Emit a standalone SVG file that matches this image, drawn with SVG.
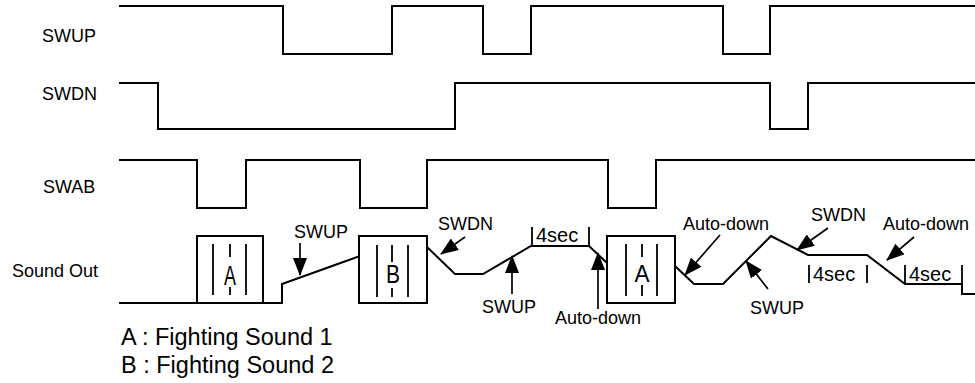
<svg xmlns="http://www.w3.org/2000/svg" width="975" height="383" viewBox="0 0 975 383">
<style>
  .sig { fill: none; stroke: #000; stroke-width: 2; stroke-linejoin: miter; }
  .box { fill: #fff; stroke: #000; stroke-width: 2; }
  .in { stroke: #000; stroke-width: 1.8; }
  .arr { stroke: #000; stroke-width: 1.7; fill: none; marker-end: url(#ah); }
  text { font-family: "Liberation Sans", Arial, Helvetica, sans-serif; fill: #000; }
  .lbl { font-size: 18px; }
  .sec { font-size: 20px; }
  .leg { font-size: 23.5px; }
  .bx { text-anchor: middle; }
</style>
<defs>
  <marker id="ah" markerUnits="userSpaceOnUse" markerWidth="18" markerHeight="14" viewBox="0 0 18 14" refX="17" refY="7" orient="auto">
    <path d="M0,0 L18,7 L0,14 z" fill="#000"/>
  </marker>
</defs>

<g id="labels">
  <text class="lbl" x="42" y="42">SWUP</text>
  <text class="lbl" x="42" y="100">SWDN</text>
  <text class="lbl" x="43" y="193">SWAB</text>
  <text class="lbl" x="12" y="277">Sound Out</text>
</g>

<g id="swup">
  <path class="sig" d="M119,6 H283 V54 H392 V6 H483 V54 H531 V6 H723 V54 H770 V6 H975"/>
</g>
<g id="swdn">
  <path class="sig" d="M119,83 H158 V129 H455 V83 H770 V129 H808 V83 H975"/>
</g>
<g id="swab">
  <path class="sig" d="M119,160 H197 V208 H246 V160 H360 V208 H427 V160 H608 V208 H656 V160 H975"/>
</g>

<g id="sound-out">
  <path class="sig" d="M119,303 H282 V284 L360,256"/>
  <path class="sig" d="M427,247 L455,274 H483 L531,246 H589 L607,263"/>
  <path class="sig" d="M675,266 L694,284 H723 L771,236 L808,255 H867 L905,284 H962 V294 H975"/>
</g>

<g id="box-a1">
  <rect class="box" x="197" y="236" width="66" height="67"/>
  <line class="in" x1="213" y1="244" x2="213" y2="295"/>
  <line class="in" x1="246" y1="244" x2="246" y2="295"/>
  <line class="in" x1="230" y1="244" x2="230" y2="257"/>
  <line class="in" x1="230" y1="287" x2="230" y2="295"/>
  <text class="bx" x="230" y="285" font-size="28" textLength="12" lengthAdjust="spacingAndGlyphs">A</text>
</g>

<g id="box-b">
  <rect class="box" x="359" y="236" width="68" height="67"/>
  <line class="in" x1="377" y1="245" x2="377" y2="297"/>
  <line class="in" x1="408" y1="245" x2="408" y2="297"/>
  <line class="in" x1="392" y1="245" x2="392" y2="262"/>
  <line class="in" x1="392" y1="288" x2="392" y2="297"/>
  <text class="bx" x="393" y="283" font-size="26" textLength="14" lengthAdjust="spacingAndGlyphs">B</text>
</g>

<g id="box-a2">
  <rect class="box" x="607" y="236" width="68" height="67"/>
  <line class="in" x1="626" y1="244" x2="626" y2="296"/>
  <line class="in" x1="657" y1="244" x2="657" y2="296"/>
  <line class="in" x1="642" y1="244" x2="642" y2="257"/>
  <line class="in" x1="642" y1="285" x2="642" y2="296"/>
  <text class="bx" x="642" y="282" font-size="24" textLength="15" lengthAdjust="spacingAndGlyphs">A</text>
</g>

<g id="timers">
  <line class="in" x1="532" y1="227" x2="532" y2="246"/>
  <line class="in" x1="589" y1="227" x2="589" y2="246"/>
  <text class="sec" x="536" y="242">4sec</text>
  <line class="in" x1="809" y1="265" x2="809" y2="283"/>
  <line class="in" x1="867" y1="265" x2="867" y2="283"/>
  <text class="sec" x="813" y="281">4sec</text>
  <line class="in" x1="905" y1="265" x2="905" y2="284"/>
  <line class="in" x1="962" y1="265" x2="962" y2="284"/>
  <text class="sec" x="909" y="281">4sec</text>
</g>

<g id="connectors">
  <line class="arr" x1="300" y1="243" x2="300" y2="275"/>
  <line class="arr" x1="465" y1="237" x2="441" y2="254"/>
  <line class="arr" x1="512" y1="294" x2="512" y2="256"/>
  <line class="arr" x1="598" y1="309" x2="598" y2="253"/>
  <line class="arr" x1="720" y1="235" x2="685" y2="275"/>
  <line class="arr" x1="768" y1="289" x2="746" y2="261"/>
  <line class="arr" x1="828" y1="228" x2="797" y2="250"/>
  <line class="arr" x1="914" y1="237" x2="887" y2="260"/>
</g>

<g id="annotations">
  <text class="lbl" x="294" y="238">SWUP</text>
  <text class="lbl" x="438" y="230">SWDN</text>
  <text class="lbl" x="482" y="313">SWUP</text>
  <text class="lbl" x="555" y="324">Auto-down</text>
  <text class="lbl" x="683" y="230">Auto-down</text>
  <text class="lbl" x="750" y="314">SWUP</text>
  <text class="lbl" x="811" y="221">SWDN</text>
  <text class="lbl" x="883" y="230">Auto-down</text>
</g>

<g id="legend">
  <text class="leg" x="121" y="345">A : Fighting Sound 1</text>
  <text class="leg" x="121" y="373">B : Fighting Sound 2</text>
</g>
</svg>
